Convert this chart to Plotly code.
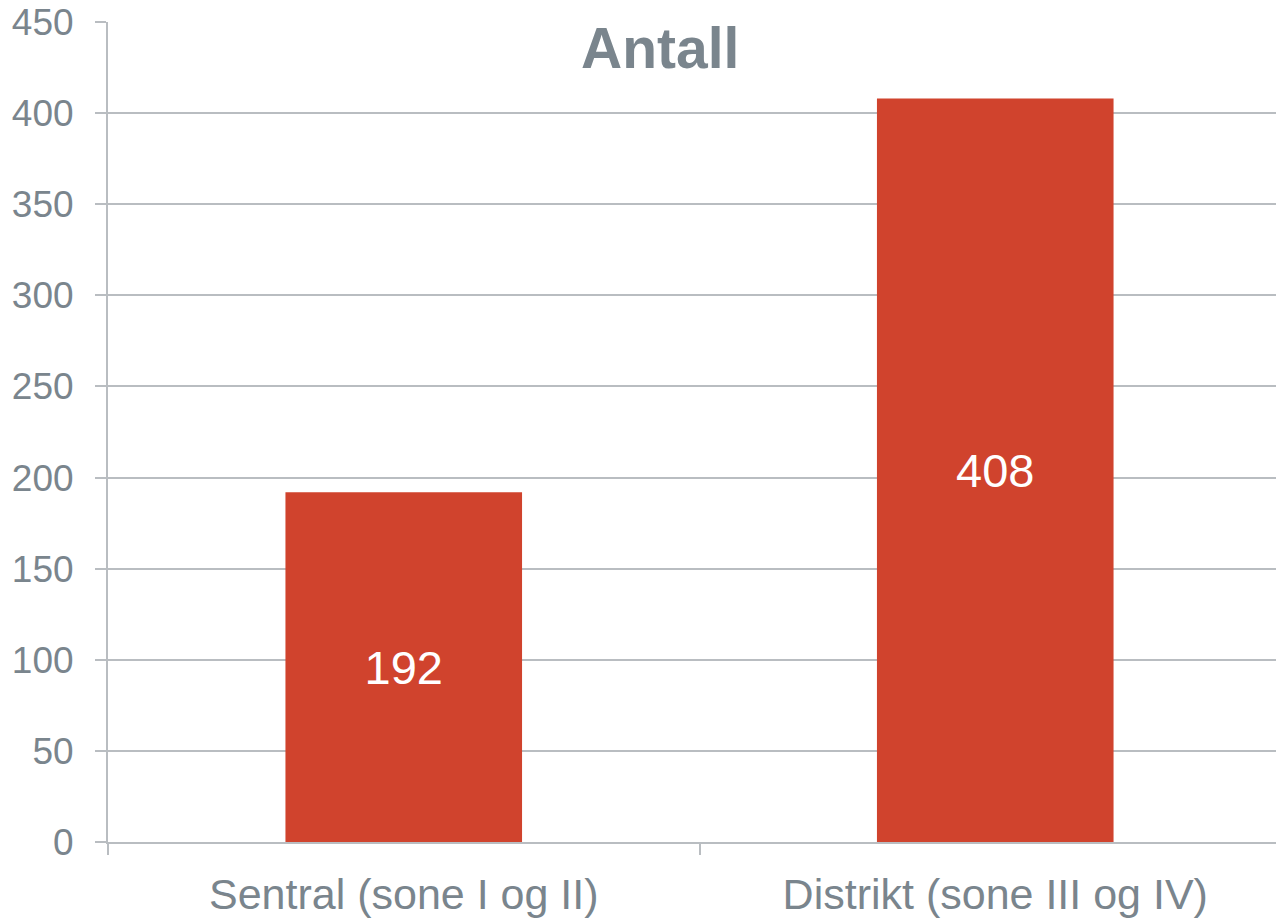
import plotly.graph_objects as go

categories = ["Sentral (sone I og II)", "Distrikt (sone III og IV)"]
values = [192, 408]
y_ticks = [0, 50, 100, 150, 200, 250, 300, 350, 400, 450]

TEXT = "#7a858d"
GRID = "#b9bdc1"
BAR = "#d0432d"
FONT = "Liberation Sans, Arial, sans-serif"

L, R, T, B = 108, 0, 22, 78
W, H = 1276, 920
pw = W - L - R
ph = H - T - B

fig = go.Figure(go.Bar(
    x=categories, y=values, width=0.4,
    marker=dict(color=BAR, line=dict(width=0)),
    text=[str(v) for v in values], textposition="inside",
    insidetextanchor="middle",
    textfont=dict(color="white", size=47, family=FONT),
    hoverinfo="skip",
))

fig.update_layout(
    width=W, height=H,
    margin=dict(l=L, r=R, t=T, b=B, autoexpand=False),
    paper_bgcolor="white", plot_bgcolor="white",
    showlegend=False,
    font=dict(family=FONT, color=TEXT),
    annotations=[dict(text="<b>Antall</b>",
                      x=(660 - L) / pw, xref="paper",
                      y=(842 - 48) / ph, yref="paper",
                      xanchor="center", yanchor="middle",
                      showarrow=False,
                      font=dict(size=57, color=TEXT, family=FONT))],
)

fig.update_xaxes(
    type="category", range=[-0.5, -0.5 + pw / 591.5],
    automargin=False,
    showline=True, linecolor=GRID, linewidth=2,
    ticks="outside", tickson="boundaries", ticklen=11, tickcolor=GRID,
    tickwidth=2, showgrid=False,
    tickfont=dict(size=43, color=TEXT, family=FONT),
    ticklabelstandoff=13,
)
fig.update_yaxes(
    range=[0, 450], tickvals=y_ticks,
    automargin=False,
    showline=True, linecolor=GRID, linewidth=2,
    showgrid=True, gridcolor=GRID, gridwidth=2,
    zeroline=False,
    ticks="outside", ticklen=11, tickcolor=GRID, tickwidth=2,
    tickfont=dict(size=37, color=TEXT, family=FONT),
    ticklabelstandoff=14,
)

fig.write_html(
    "out.html",
    config={"displayModeBar": False},
    post_script="document.body.style.margin='0';document.body.style.overflow='hidden';",
)
